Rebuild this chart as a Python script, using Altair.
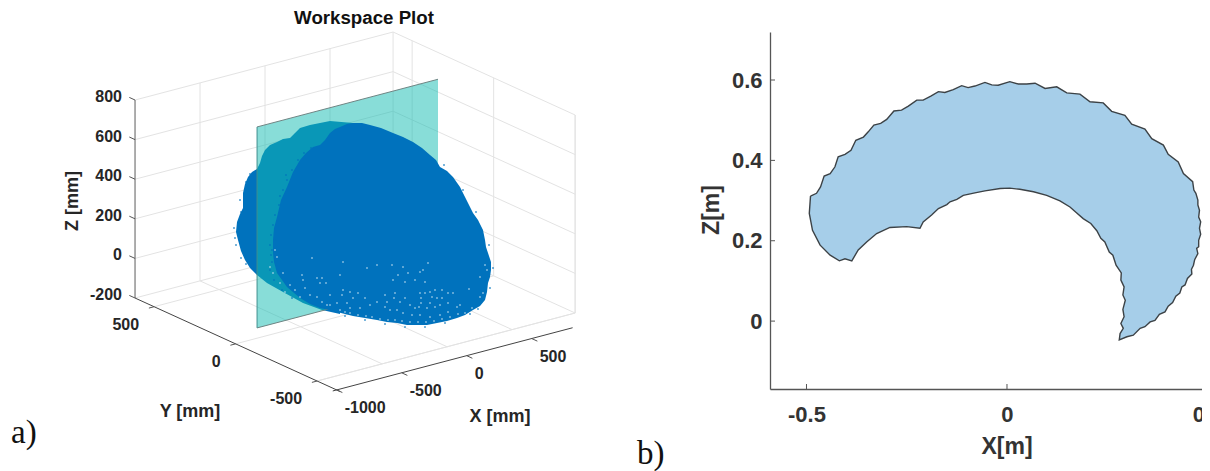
import altair as alt
import pandas as pd

# ---- panel a: 3-D axes data in mm
x_lim = [-1000, 985]
y_lim = [-500, 617]
z_lim = [-200, 800]
x_ticks = [-1000, -500, 0, 500]
y_ticks = [500, 0, -500]
z_ticks = [-200, 0, 200, 400, 600, 800]
plane_x = [-835, 557]
plane_z = [-148, 867]
AXIS_Y = -620


def proj(x, y, z):
    return (365.6 + 0.13 * x - 0.163 * y, 270 - 0.03426 * x - 0.0743 * y - 0.198 * z)


# silhouette of the point cloud in view coordinates
back_u = [257, 252, 248, 245, 243, 243, 240, 237, 236, 238, 241, 245, 250, 257, 267, 283, 303, 322, 340, 353, 330, 320, 310, 300, 295, 290, 283, 277, 270, 265, 262, 260, 257]
back_v = [169, 172, 177, 184, 193, 208, 214, 222, 232, 240, 251, 260, 268, 275, 283, 292, 303, 310, 314, 123, 121, 123, 125, 128, 133, 138, 139, 142, 145, 150, 156, 163, 169]
front_u = [277, 281, 287, 293, 300, 306, 313, 320, 325, 330, 335, 340, 347, 353, 362, 370, 381, 393, 403, 413, 422, 430, 436, 440, 447, 453, 460, 465, 469, 473, 478, 483, 485, 486, 488, 491, 491, 490, 488, 487, 485, 480, 473, 465, 457, 447, 437, 427, 417, 407, 397, 387, 377, 365, 353, 345, 337, 329, 320, 310, 300, 287, 277, 274, 273, 273, 274]
front_v = [217, 200, 187, 172, 160, 153, 147, 145, 140, 133, 129, 127, 124, 123, 123, 125, 128, 133, 137, 142, 148, 155, 160, 167, 171, 177, 187, 197, 205, 213, 220, 230, 240, 247, 253, 262, 270, 277, 283, 292, 300, 306, 310, 315, 318, 321, 323, 325, 325, 325, 323, 322, 320, 318, 316, 314, 312, 310, 308, 304, 298, 287, 273, 262, 253, 240, 228]
speck_u = [420, 421, 421, 419, 425, 430, 435, 442, 448, 453, 432, 437, 442, 448, 430, 435, 440, 427, 415, 410, 405, 400, 395, 394, 387, 385, 390, 397, 403, 412, 420, 430, 440, 448, 457, 460, 469, 385, 398, 408, 403, 420, 425, 415, 405, 393, 480, 423, 428, 392, 485, 487, 472, 465, 480, 483,
           345, 350, 358, 366, 372, 380, 388, 395, 402, 410, 418, 426, 434, 442, 450, 458,
           317, 322, 326, 320, 343, 340, 312, 302, 303, 290, 295, 305, 310, 317, 322, 330, 343, 342, 350, 358, 365, 353, 347, 337, 330, 340, 350, 360, 370, 377, 367, 377, 327, 283, 280, 270, 275, 277, 273, 285, 300]
speck_v = [293, 298, 303, 307, 293, 292, 290, 290, 293, 293, 297, 298, 298, 303, 303, 307, 305, 308, 308, 305, 298, 302, 293, 298, 302, 307, 310, 310, 313, 315, 315, 317, 315, 312, 307, 305, 289, 295, 275, 273, 267, 272, 282, 280, 282, 280, 277, 270, 263, 265, 265, 270, 308, 313, 297, 293,
           312, 313, 315, 316, 317, 319, 320, 320, 321, 322, 322, 322, 321, 319, 317, 314,
           278, 278, 283, 283, 262, 275, 258, 275, 280, 285, 290, 288, 295, 297, 302, 295, 290, 295, 292, 293, 298, 298, 303, 303, 305, 310, 308, 308, 305, 302, 268, 265, 305, 273, 283, 267, 250, 257, 273, 292, 297]
fringe_u = [271, 270, 271, 272, 273, 275, 279, 283, 287, 292, 298, 304, 311, 270, 274, 282, 292, 272, 276, 280, 286,
            234, 235, 236, 241, 246, 240, 241, 246, 250,
            470, 445, 425, 405, 385, 365, 345, 478, 490, 493, 489, 476, 463, 444]
fringe_v = [235, 245, 255, 262, 225, 215, 205, 190, 180, 170, 160, 153, 148, 270, 280, 290, 298, 250, 240, 196, 175,
            228, 238, 245, 258, 264, 200, 212, 182, 174,
            314, 323, 327, 327, 324, 320, 316, 309, 288, 268, 245, 212, 190, 165]

# ---- panel b: boundary of the X-Z section, metres
outline_x = [-0.490, -0.475, -0.465, -0.456, -0.441, -0.429, -0.421, -0.404, -0.389, -0.377, -0.358, -0.346, -0.332, -0.315,
             -0.300, -0.282, -0.263, -0.246, -0.225, -0.209, -0.190, -0.171, -0.155, -0.134, -0.113, -0.097, -0.080, -0.055,
             -0.038, -0.022, 0.007, 0.028, 0.049, 0.070, 0.095, 0.124, 0.149, 0.182, 0.207, 0.240, 0.261, 0.294, 0.311, 0.344,
             0.361, 0.390, 0.402, 0.427, 0.440, 0.463, 0.466, 0.471, 0.476, 0.476, 0.480, 0.478, 0.483, 0.480, 0.483, 0.478,
             0.478, 0.473, 0.476, 0.468, 0.465, 0.460, 0.461, 0.450, 0.444, 0.436, 0.431, 0.421, 0.413, 0.402, 0.394, 0.380,
             0.369, 0.357, 0.344, 0.332, 0.315, 0.299, 0.280, 0.282, 0.290, 0.284, 0.292, 0.289, 0.295, 0.289, 0.292, 0.284,
             0.285, 0.272, 0.264, 0.255, 0.244, 0.234, 0.224, 0.209, 0.190, 0.174, 0.157, 0.132, 0.099,
             0.066, 0.032, 0.007, -0.017, -0.055, -0.080, -0.109, -0.125, -0.142, -0.150, -0.171, -0.188, -0.209, -0.217,
             -0.250, -0.292, -0.325, -0.350, -0.371, -0.387, -0.404, -0.418, -0.441, -0.466, -0.485, -0.493, -0.490]
outline_z = [0.311, 0.318, 0.334, 0.361, 0.367, 0.384, 0.409, 0.415, 0.425, 0.450, 0.458, 0.471, 0.488, 0.492,
             0.502, 0.523, 0.525, 0.535, 0.550, 0.550, 0.560, 0.571, 0.569, 0.576, 0.586, 0.581, 0.585, 0.594,
             0.588, 0.587, 0.596, 0.590, 0.590, 0.592, 0.579, 0.583, 0.568, 0.565, 0.546, 0.543, 0.522, 0.512, 0.490, 0.478,
             0.454, 0.438, 0.415, 0.396, 0.367, 0.347, 0.326, 0.318, 0.301, 0.289, 0.276, 0.259, 0.247, 0.231, 0.216, 0.201,
             0.185, 0.181, 0.168, 0.153, 0.139, 0.129, 0.117, 0.106, 0.090, 0.085, 0.070, 0.062, 0.046, 0.037, 0.023, 0.017,
             0.002, -0.002, -0.014, -0.018, -0.035, -0.039, -0.047, -0.031, -0.018, -0.006, 0.011, 0.029, 0.052, 0.065, 0.085, 0.102,
             0.120, 0.139, 0.164, 0.172, 0.197, 0.206, 0.225, 0.243, 0.255, 0.269, 0.284, 0.299, 0.313,
             0.322, 0.328, 0.331, 0.330, 0.324, 0.319, 0.313, 0.303, 0.297, 0.290, 0.280, 0.264, 0.247, 0.231,
             0.235, 0.233, 0.218, 0.197, 0.177, 0.150, 0.155, 0.150, 0.164, 0.189, 0.226, 0.268, 0.311]
xb_ticks = [-0.5, 0, 0.5]
zb_ticks = [0, 0.2, 0.4, 0.6]

sx = alt.Scale(domain=[8, 1202], range=[0, 1194], nice=False, zero=False)
sy = alt.Scale(domain=[8, 471], range=[0, 463], nice=False, zero=False)
U = alt.X("u:Q", scale=sx, axis=None)
V = alt.Y("v:Q", scale=sy, axis=None)


def segs(points):
    rows = []
    for a, b in points:
        ua, va = proj(*a)
        ub, vb = proj(*b)
        rows.append({"u": ua, "v": va, "u2": ub, "v2": vb})
    return pd.DataFrame(rows)


def rules(points, color, width):
    return alt.Chart(segs(points)).mark_rule(color=color, strokeWidth=width).encode(
        x=U, y=V, x2="u2:Q", y2="v2:Q")


def poly(us, vs, fill, opacity=1.0):
    df = pd.DataFrame({"u": us, "v": vs, "i": range(len(us))})
    return alt.Chart(df).mark_line(fill=fill, stroke=None, opacity=opacity, strokeWidth=0).encode(
        x=U, y=V, order="i:Q")


def labels(items, **kw):
    df = pd.DataFrame(items, columns=["u", "v", "t"])
    return alt.Chart(df).mark_text(**kw).encode(x=U, y=V, text="t:N")


x0, x1 = x_lim
y0, y1 = y_lim
z0, z1 = z_lim
grid = []
for z in z_ticks:
    grid.append(((x0, y1, z), (x1, y1, z)))
    grid.append(((x1, y1, z), (x1, y0, z)))
for x in x_ticks[1:]:
    grid.append(((x, y1, z0), (x, y1, z1)))
    grid.append(((x, y1, z0), (x, y0, z0)))
grid.append(((x1, y1, z0), (x1, y1, z1)))
grid.append(((x1, y0, z0), (x1, y0, z1)))
grid.append(((x1, y0, z0), (x0, y0, z0)))
for y in y_ticks:
    grid.append(((x1, y, z0), (x1, y, z1)))
    grid.append(((x0, y, z0), (x1, y, z0)))

axes_dark = [((x0, y1, z0), (x0, y1, z1))]
axes_black = [((x0, y1, z0), (x0, -640, z0)), ((-1030, AXIS_Y, z0), (815, AXIS_Y, z0))]
ticks = [((x0, y1, z), (x0, y1 + 35, z)) for z in z_ticks]
ticks += [((x0, y, z0), (x0 - 40, y, z0)) for y in y_ticks]
ticks += [((x, AXIS_Y, z0), (x, AXIS_Y - 35, z0)) for x in x_ticks]

p0, p1 = plane_x
pz0, pz1 = plane_z
corners = [proj(p0, 0, pz1), proj(p1, 0, pz1), proj(p1, 0, pz0), proj(p0, 0, pz0), proj(p0, 0, pz1)]
plane = poly([c[0] for c in corners], [c[1] for c in corners], "#11BBB1", 0.5)
plane_edge = [((p0, 0, pz1), (p1, 0, pz1)), ((p0, 0, pz0), (p1, 0, pz0))]
plane_edge2 = [((p0, 0, pz1), (p0, 0, pz0))]

font = "Liberation Sans"
ztext = labels([(proj(x0, y1, z)[0], proj(x0, y1, z)[1], str(z)) for z in z_ticks], align="right", baseline="middle",
               dx=-13, dy=-3, font=font, fontWeight="bold", fontSize=16, color="#262626")
ytext = labels([(proj(x0, y, z0)[0], proj(x0, y, z0)[1], str(y)) for y in y_ticks], align="right", baseline="middle",
               dx=-15, dy=18, font=font, fontWeight="bold", fontSize=16, color="#262626")
xtext = labels([(proj(x, AXIS_Y, z0)[0], proj(x, AXIS_Y, z0)[1], str(x)) for x in x_ticks], align="left", baseline="middle",
               dx=8, dy=18.5, font=font, fontWeight="bold", fontSize=16, color="#262626")

title_a = labels([(364, 18, "Workspace Plot")], font=font, fontWeight="bold", fontSize=18.7, color="#111111", baseline="middle")
ax_a = labels([(500, 417, "X [mm]"), (190, 412, "Y [mm]")], font=font, fontWeight="bold", fontSize=18, color="#262626", baseline="middle")
ax_z = labels([(73, 201, "Z [mm]")], font=font, fontWeight="bold", fontSize=18, color="#262626", baseline="middle", angle=270)
ax_b = labels([(1007, 447, "X[m]")], font=font, fontWeight="bold", fontSize=23, color="#333333", baseline="middle")
ax_bz = labels([(712, 210, "Z[m]")], font=font, fontWeight="bold", fontSize=23, color="#333333", baseline="middle", angle=270)
tags = labels([(11, 443, "a)"), (637, 464, "b)")], font="Liberation Serif", fontSize=33, color="#111111", align="left", baseline="alphabetic")

specks = alt.Chart(pd.DataFrame({"u": speck_u, "v": speck_v})).mark_square(size=2, color="#cfe6f3", opacity=0.85).encode(x=U, y=V)
fringe = alt.Chart(pd.DataFrame({"u": fringe_u, "v": fringe_v})).mark_square(size=3, color="#0072BD", opacity=0.8).encode(x=U, y=V)

left = alt.layer(
    rules(grid, "#e3e3e3", 1),
    poly(back_u, back_v, "#0072BD"),
    plane,
    rules(plane_edge, "#6f8584", 1),
    rules(plane_edge2, "#3f8f8f", 1),
    poly(front_u, front_v, "#0072BD"),
    fringe,
    specks,
    rules(axes_dark, "#777777", 1.2),
    rules(axes_black, "#444444", 1),
    rules(ticks, "#555555", 1),
    ztext, ytext, xtext, title_a, ax_a, ax_z, ax_b, ax_bz, tags,
)

# ---- panel b through its own metric scales
bx = alt.Scale(domain=[-0.591, 0.5], range=[762, 1199.5], nice=False, zero=False)
bz = alt.Scale(domain=[-0.169, 0.7195], range=[381, 24], nice=False, zero=False)
AX = alt.X("X:Q", scale=bx, axis=alt.Axis(orient="bottom", offset=-82, values=xb_ticks, labelExpr="'' + datum.value", tickSize=0, grid=False, title=None,
                                          labelFont=font, labelFontWeight="bold", labelFontSize=22, labelColor="#333333", labelPadding=15,
                                          labelFlush=False, labelOverlap=False,
                                          domainColor="#555555", domainWidth=1.3))
AZ = alt.Y("Z:Q", scale=bz, axis=alt.Axis(orient="left", offset=-762, values=zb_ticks, labelExpr="'' + datum.value", tickSize=0, grid=False, title=None,
                                          labelFont=font, labelFontWeight="bold", labelFontSize=22, labelColor="#333333", labelPadding=8,
                                          domainColor="#555555", domainWidth=1.3))
section = alt.Chart(pd.DataFrame({"X": outline_x, "Z": outline_z, "i": range(len(outline_x))})).mark_line(
    fill="#A6CEE9", stroke="#3c4246", strokeWidth=1.4).encode(x=AX, y=AZ, order="i:Q")
xt = alt.Chart(pd.DataFrame({"X": xb_ticks})).mark_rule(color="#555555", strokeWidth=1).encode(
    x=AX, y=alt.value(376), y2=alt.value(381))
zt = alt.Chart(pd.DataFrame({"Z": zb_ticks})).mark_rule(color="#555555", strokeWidth=1).encode(
    y=AZ, x=alt.value(762), x2=alt.value(767))
right = alt.layer(section, xt, zt)

chart = alt.layer(left, right).resolve_scale(x="independent", y="independent").properties(
    width=1194, height=463, padding=0, autosize=alt.AutoSizeParams(type="none"),
).configure_view(stroke=None)

chart.save("out.html", embed_options={"renderer": "svg", "actions": False})
